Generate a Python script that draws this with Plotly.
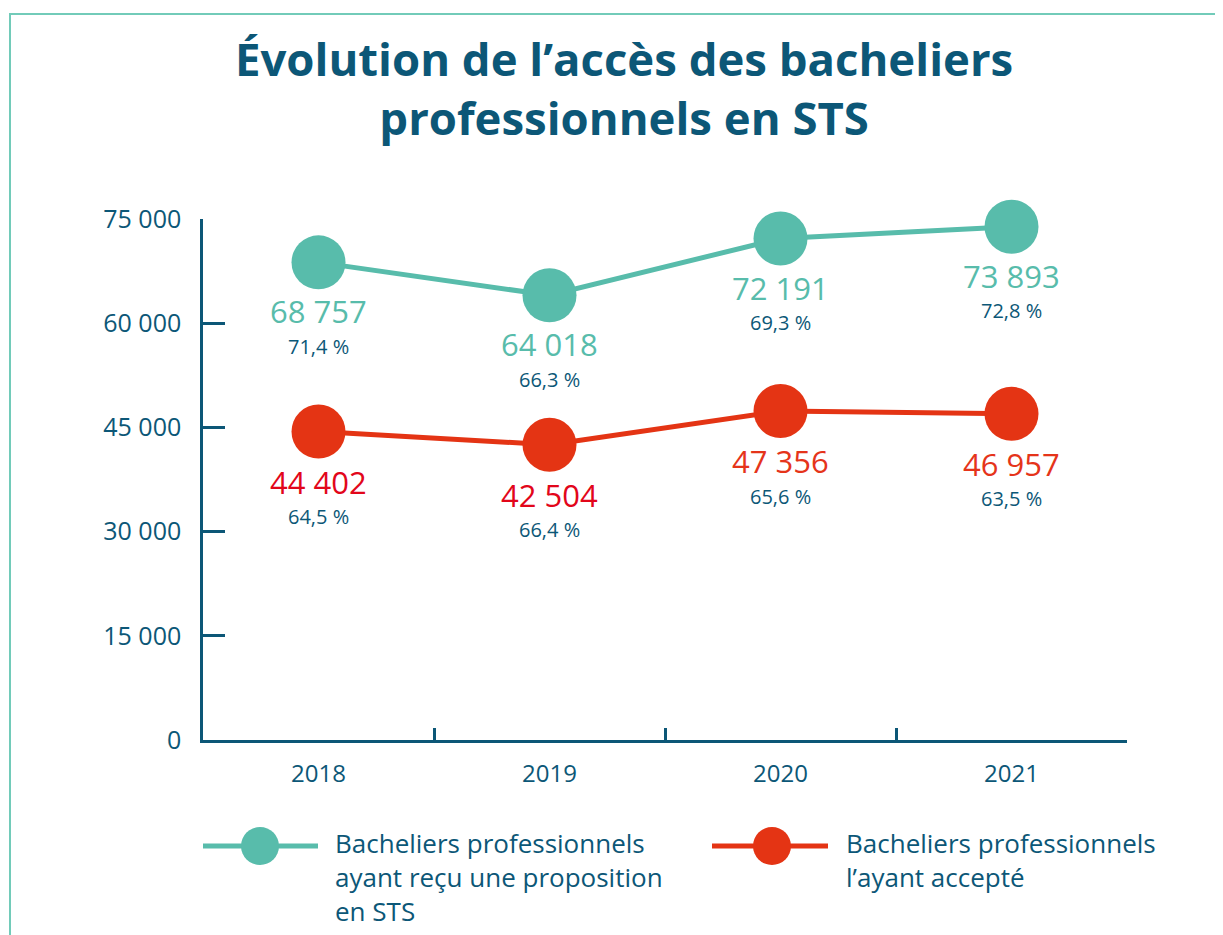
import plotly.graph_objects as go

years = ["2018", "2019", "2020", "2021"]
proposition = [68757, 64018, 72191, 73893]
proposition_pct = ["71,4 %", "66,3 %", "69,3 %", "72,8 %"]
accepte = [44402, 42504, 47356, 46957]
accepte_pct = ["64,5 %", "66,4 %", "65,6 %", "63,5 %"]
accepte_label_colors = ["#e2061a", "#e2061a", "#e5341a", "#e5341a"]
y_ticks = [0, 15000, 30000, 45000, 60000, 75000]
legend_names = ["Bacheliers professionnels<br>ayant reçu une proposition<br>en STS",
                "Bacheliers professionnels<br>l’ayant accepté"]
title = "Évolution de l’accès des bacheliers<br>professionnels en STS"

TEAL = "#58bcab"
RED = "#e43414"
DARK = "#0c5777"
FONT = "Open Sans"

OFF = 8  # page body margin
W, H = 1223 - OFF, 935 - OFF
# target plot area in page pixels
PX0, PX1, PY0, PY1 = 203, 1127, 219, 740
L, T = PX0 - OFF, PY0 - OFF
pw, ph = PX1 - PX0, PY1 - PY0
R, B = W - L - pw, H - T - ph

def px(x):
    return (x - PX0) / pw

def py(y):
    return (PY1 - y) / ph

def fmt(v):
    return f"{v:,}".replace(",", " ")

fig = go.Figure()
fig.add_trace(go.Scatter(x=years, y=proposition, mode="lines+markers",
                         line=dict(color=TEAL, width=5),
                         marker=dict(size=54, color=TEAL), showlegend=False,
                         cliponaxis=False))
fig.add_trace(go.Scatter(x=years, y=accepte, mode="lines+markers",
                         line=dict(color=RED, width=5),
                         marker=dict(size=54, color=RED), showlegend=False,
                         cliponaxis=False))

ann = []
for i, yr in enumerate(years):
    ann.append(dict(x=i, y=proposition[i], text=fmt(proposition[i]), showarrow=False,
                    yshift=-49, font=dict(size=31, color=TEAL, family=FONT)))
    ann.append(dict(x=i, y=proposition[i], text=proposition_pct[i], showarrow=False,
                    yshift=-84, font=dict(size=20, color=DARK, family=FONT)))
    ann.append(dict(x=i, y=accepte[i], text=fmt(accepte[i]), showarrow=False,
                    yshift=-50, font=dict(size=31, color=accepte_label_colors[i], family=FONT)))
    ann.append(dict(x=i, y=accepte[i], text=accepte_pct[i], showarrow=False,
                    yshift=-85, font=dict(size=20, color=DARK, family=FONT)))

# title
ann.append(dict(xref="paper", yref="paper", x=px(624), y=py(87), text="<b>" + title + "</b>",
                showarrow=False, xanchor="center", yanchor="middle",
                font=dict(size=45.5, color=DARK, family=FONT)))

# legend
shapes = []
leg = [(203, 318, 260, TEAL, 333, legend_names[0]), (712, 828, 772, RED, 844, legend_names[1])]
for x0, x1, cx, col, tx, txt in leg:
    shapes.append(dict(type="line", xref="paper", yref="paper", x0=px(x0), x1=px(x1),
                       y0=py(846), y1=py(846), line=dict(color=col, width=5)))
    shapes.append(dict(type="circle", xref="paper", yref="paper", x0=px(cx - 19), x1=px(cx + 19),
                       y0=py(846 - 19), y1=py(846 + 19), fillcolor=col, line=dict(width=0)))
    ann.append(dict(xref="paper", yref="paper", x=px(tx), y=py(823), text=txt, showarrow=False,
                    xanchor="left", yanchor="top", align="left",
                    font=dict(size=26, color=DARK, family=FONT)))

# frame
shapes.append(dict(type="rect", xref="paper", yref="paper", x0=px(10), x1=px(1260),
                   y0=py(970), y1=py(14), line=dict(color="#72cbb9", width=2), layer="below"))

fig.update_layout(
    width=W, height=H, margin=dict(l=L, r=R, t=T, b=B),
    paper_bgcolor="white", plot_bgcolor="white",
    font=dict(family=FONT, color=DARK),
    annotations=ann, shapes=shapes,
    xaxis=dict(type="category", range=[-0.5, 3.5], tickson="boundaries", ticks="inside",
               ticklen=12, tickwidth=2.5, tickcolor=DARK, showline=True, linecolor=DARK,
               linewidth=2.5, showgrid=False, zeroline=False, fixedrange=True,
               tickfont=dict(size=24, color=DARK, family=FONT), ticklabelstandoff=10),
    yaxis=dict(range=[0, 75000], tickvals=y_ticks, ticktext=[fmt(v) for v in y_ticks],
               ticks="inside", ticklen=22, tickwidth=2.5, tickcolor=DARK, showline=True,
               linecolor=DARK, linewidth=2.5, showgrid=False, zeroline=False,
               tickfont=dict(size=25, color=DARK, family=FONT), ticklabelstandoff=14),
)

fig.write_html("out.html")
